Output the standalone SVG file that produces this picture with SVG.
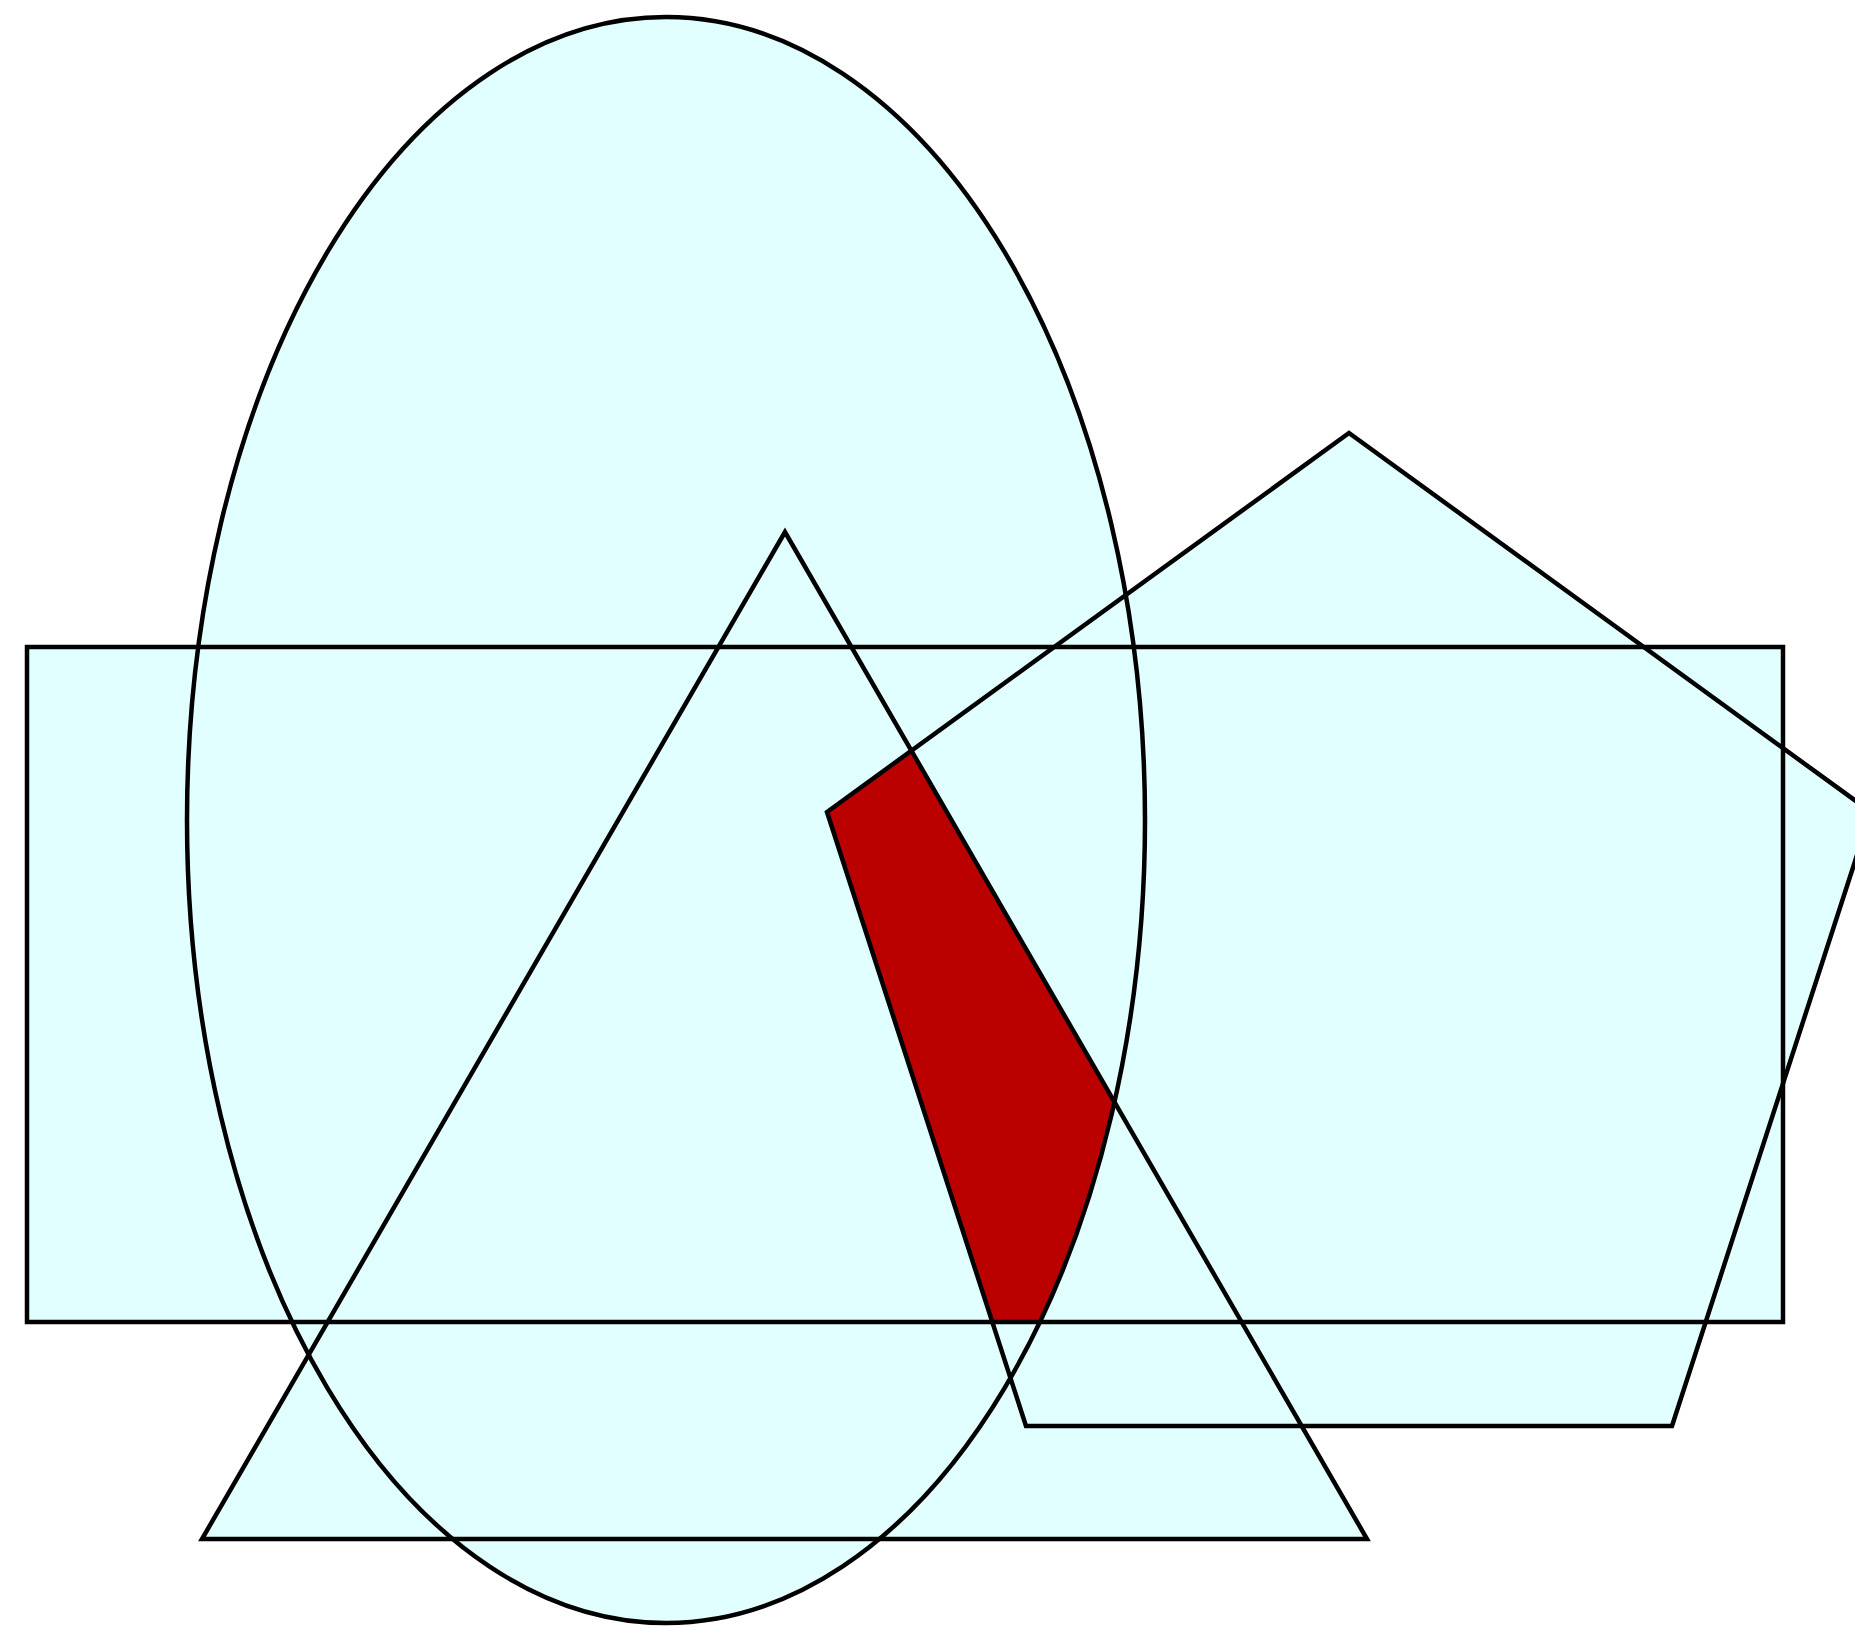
<svg xmlns="http://www.w3.org/2000/svg" xmlns:xlink="http://www.w3.org/1999/xlink" width="1855" height="1630" viewBox="0 0 1855 1630">
<style>
.f{fill:#e2ffff;stroke:none}
.s{fill:none;stroke:#000;stroke-width:4.5;stroke-linejoin:miter}
.red{fill:#bb0000;stroke:none}
</style>
<defs>
<ellipse id="ell" cx="666" cy="820" rx="479" ry="803"/>
<rect id="rct" x="27" y="647" width="1756" height="675"/>
<polygon id="tri" points="785,532 202,1539 1367,1539"/>
<polygon id="pen" points="1349,433 1871,812 1672,1426 1026,1426 827,812"/>
<clipPath id="cE"><use xlink:href="#ell"/></clipPath>
<clipPath id="cR"><use xlink:href="#rct"/></clipPath>
<clipPath id="cT"><use xlink:href="#tri"/></clipPath>
</defs>
<g id="fills">
<g id="ellipse-fill"><use xlink:href="#ell" class="f"/></g>
<g id="rect-fill"><use xlink:href="#rct" class="f"/></g>
<g id="triangle-fill"><use xlink:href="#tri" class="f"/></g>
<g id="pentagon-fill"><use xlink:href="#pen" class="f"/></g>
</g>
<g id="intersection" clip-path="url(#cE)">
<g clip-path="url(#cR)">
<g clip-path="url(#cT)">
<use xlink:href="#pen" class="red"/>
</g>
</g>
</g>
<g id="outlines">
<g id="ellipse"><use xlink:href="#ell" class="s"/></g>
<g id="rectangle"><use xlink:href="#rct" class="s"/></g>
<g id="triangle"><use xlink:href="#tri" class="s"/></g>
<g id="pentagon"><use xlink:href="#pen" class="s"/></g>
</g>
</svg>
